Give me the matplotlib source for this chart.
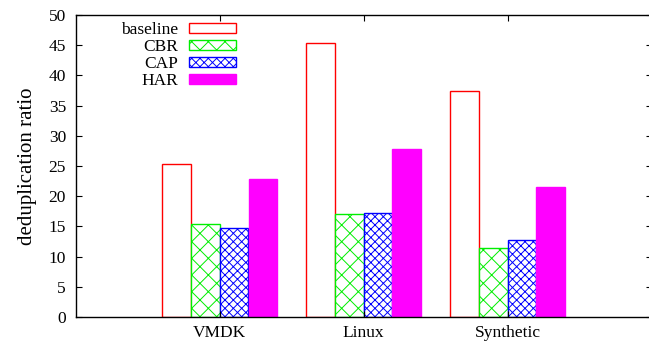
import numpy as np
import matplotlib.pyplot as plt

plt.rcParams['font.family'] = ['Liberation Serif', 'DejaVu Serif']
plt.rcParams['hatch.linewidth'] = 0.7

categories = ["VMDK", "Linux", "Synthetic"]
series = ["baseline", "CBR", "CAP", "HAR"]
baseline = [25.4, 45.3, 37.4]
cbr = [15.4, 17.0, 11.4]
cap = [14.7, 17.3, 12.7]
har = [22.8, 27.8, 21.5]
yticks = [0, 5, 10, 15, 20, 25, 30, 35, 40, 45, 50]

fig = plt.figure(figsize=(6.49, 3.42), dpi=100)
ax = fig.add_axes([75.7 / 649, 1 - 317 / 342, 576 / 649, 302 / 342])

x = np.arange(1, len(categories) + 1)
width = 0.2
styles = [
    dict(facecolor="white", edgecolor="#ff0000", hatch=None),
    dict(facecolor="white", edgecolor="#00ee00", hatch="xx"),
    dict(facecolor="white", edgecolor="#0000ff", hatch="xxxx"),
    dict(facecolor="#ff00ff", edgecolor="#ff00ff", hatch=None),
]
values = [baseline, cbr, cap, har]
for i, (name, vals, st) in enumerate(zip(series, values, styles)):
    ax.bar(x + (i - 1.5) * width, vals, width, label=name, linewidth=1.0, **st)

ax.set_xlim(0, 4)
ax.set_ylim(0, 50)
ax.set_xticks(x)
ax.set_xticklabels(categories)
ax.set_yticks(yticks)
ax.tick_params(direction="in", top=True, right=True, length=4, labelsize=12.5)
ax.tick_params(axis="y", pad=7)
ax.tick_params(axis="x", pad=6)
ax.set_ylabel("deduplication ratio", fontsize=15, labelpad=8)
for s in ax.spines.values():
    s.set_linewidth(1.0)

ax.legend(loc="upper right", bbox_to_anchor=(236 / 649, 1 - 22 / 342), bbox_transform=fig.transFigure,
          frameon=False, markerfirst=False, fontsize=12.5, handlelength=2.7, handleheight=0.55,
          labelspacing=0.06, borderpad=0, borderaxespad=0, handletextpad=0.65)

fig.savefig("out.png", dpi=100)
